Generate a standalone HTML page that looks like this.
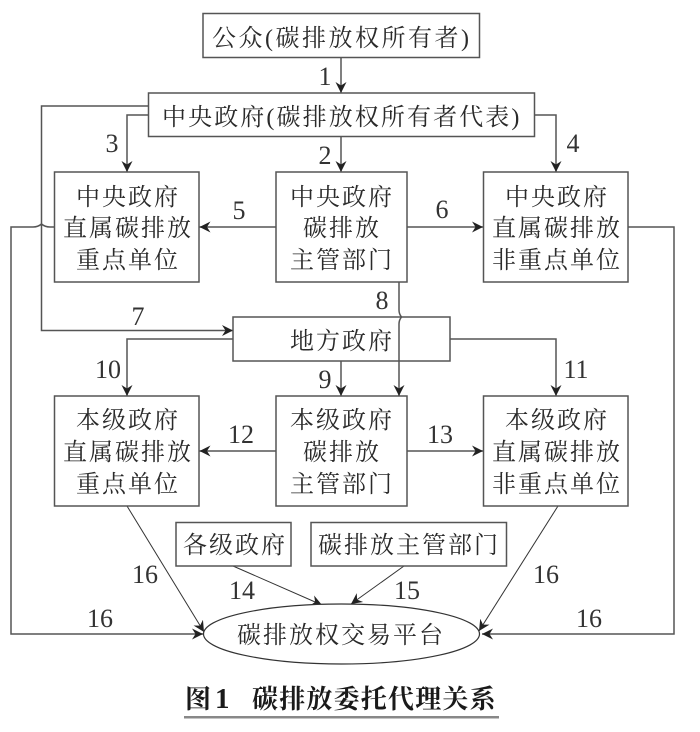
<!DOCTYPE html>
<html lang="zh">
<head>
<meta charset="utf-8">
<style>
html,body{margin:0;padding:0;background:#fff;width:700px;height:732px;overflow:hidden}
svg{display:block;filter:blur(.3px)}
.b{fill:#fff;stroke:#555;stroke-width:1.5}
.l{fill:none;stroke:#555;stroke-width:1.5}
.d{fill:none;stroke:#333;stroke-width:1}
text{font-family:"Liberation Serif","Noto Serif CJK SC",serif;fill:#2a2a2a}
.c{font-size:24px;letter-spacing:2px;text-anchor:middle}
.w{font-size:24px;letter-spacing:2.5px}
.n{font-size:26px;text-anchor:middle;fill:#333}
.t{font-size:26px;font-weight:700;fill:#1a1a1a}
</style>
</head>
<body>
<svg xmlns="http://www.w3.org/2000/svg" width="700" height="732" viewBox="0 0 700 732">
<defs>
<marker id="a" markerUnits="userSpaceOnUse" markerWidth="14" markerHeight="14" refX="11" refY="6" orient="auto">
<path d="M11 6L0 .5L3.5 6L0 11.5Z" fill="#222"/>
</marker>
</defs>

<!-- connectors -->
<path class="l" d="M341 58V93" marker-end="url(#a)"/>
<path class="l" d="M148 106H41.5V330.5H233" marker-end="url(#a)"/>
<path class="l" d="M148 115H127V172" marker-end="url(#a)"/>
<path class="l" d="M341 136V172" marker-end="url(#a)"/>
<path class="l" d="M534 115H556V172" marker-end="url(#a)"/>
<path class="l" d="M276 227H199.5" marker-end="url(#a)"/>
<path class="l" d="M407 227H483" marker-end="url(#a)"/>
<path class="l" d="M628 227H674V634H482" marker-end="url(#a)"/>
<path class="l" d="M54.5 227H50Q45 227 41.5 224Q38 227 33 227H11V634H203" marker-end="url(#a)"/>
<path class="l" d="M233 339H127V396" marker-end="url(#a)"/>
<path class="l" d="M450 339H556V396" marker-end="url(#a)"/>
<path class="l" d="M341 361V396" marker-end="url(#a)"/>
<path class="l" d="M276 451H199.5" marker-end="url(#a)"/>
<path class="l" d="M407 451H483" marker-end="url(#a)"/>
<path class="d" d="M127 506L204 632" marker-end="url(#a)"/>
<path class="d" d="M558 506L479 631" marker-end="url(#a)"/>
<path class="d" d="M233 566L322 605" marker-end="url(#a)"/>
<path class="d" d="M404 566L351 604" marker-end="url(#a)"/>

<!-- boxes -->
<rect class="b" x="203" y="13.5" width="276.5" height="44"/>
<rect class="b" x="148.5" y="93" width="386" height="43.5"/>
<rect class="b" x="54.5" y="172" width="144.5" height="110"/>
<rect class="b" x="276" y="172" width="131" height="110"/>
<rect class="b" x="483.5" y="172" width="144.5" height="110"/>
<rect class="b" x="233" y="317" width="217" height="44"/>
<rect class="b" x="54.5" y="396" width="144.5" height="110"/>
<rect class="b" x="276" y="396" width="131" height="110"/>
<rect class="b" x="483.5" y="396" width="144.5" height="110"/>
<rect class="b" x="176" y="522.5" width="115" height="43.5"/>
<rect class="b" x="311" y="522.5" width="195.5" height="43.5"/>
<ellipse cx="341.5" cy="634" rx="138" ry="30" fill="#fff" stroke="#333" stroke-width="1.2"/>

<!-- line 8 drawn over the local-government box -->
<path class="l" d="M399 282V310Q399 314 401.5 317Q399 320 399 324V396" marker-end="url(#a)"/>

<!-- box labels -->
<text class="w" x="212" y="46">公众(碳排放权所有者)</text>
<text class="w" x="162" y="125" style="letter-spacing:2.1px">中央政府(碳排放权所有者代表)</text>

<text class="c" x="128" y="205">中央政府</text>
<text class="c" x="128" y="236">直属碳排放</text>
<text class="c" x="128" y="268">重点单位</text>
<text class="c" x="342" y="205">中央政府</text>
<text class="c" x="342" y="236">碳排放</text>
<text class="c" x="342" y="268">主管部门</text>
<text class="c" x="557" y="205">中央政府</text>
<text class="c" x="557" y="236">直属碳排放</text>
<text class="c" x="557" y="268">非重点单位</text>

<text class="c" x="342" y="349">地方政府</text>

<text class="c" x="128" y="428">本级政府</text>
<text class="c" x="128" y="460">直属碳排放</text>
<text class="c" x="128" y="492">重点单位</text>
<text class="c" x="342" y="428">本级政府</text>
<text class="c" x="342" y="460">碳排放</text>
<text class="c" x="342" y="492">主管部门</text>
<text class="c" x="557" y="428">本级政府</text>
<text class="c" x="557" y="460">直属碳排放</text>
<text class="c" x="557" y="492">非重点单位</text>

<text class="c" x="235" y="553">各级政府</text>
<text class="c" x="409" y="553">碳排放主管部门</text>
<text class="c" x="341" y="643">碳排放权交易平台</text>

<!-- numbers -->
<text class="n" x="325" y="85">1</text>
<text class="n" x="325" y="164">2</text>
<text class="n" x="112" y="152">3</text>
<text class="n" x="573" y="152">4</text>
<text class="n" x="239" y="219">5</text>
<text class="n" x="442" y="218">6</text>
<text class="n" x="138" y="325">7</text>
<text class="n" x="382" y="309">8</text>
<text class="n" x="325" y="388">9</text>
<text class="n" x="108" y="378">10</text>
<text class="n" x="576" y="378">11</text>
<text class="n" x="241" y="443">12</text>
<text class="n" x="440" y="443">13</text>
<text class="n" x="242" y="599">14</text>
<text class="n" x="407" y="599">15</text>
<text class="n" x="145" y="583">16</text>
<text class="n" x="100" y="627">16</text>
<text class="n" x="546" y="583">16</text>
<text class="n" x="589" y="627">16</text>

<!-- caption -->
<text class="t" x="185" y="708">图</text>
<text class="t" x="215" y="708" style="font-size:29px">1</text>
<text class="t" x="252" y="708" style="letter-spacing:1.2px">碳排放委托代理关系</text>
<rect x="184" y="716" width="315" height="2.5" fill="#888"/>
</svg>
</body>
</html>
